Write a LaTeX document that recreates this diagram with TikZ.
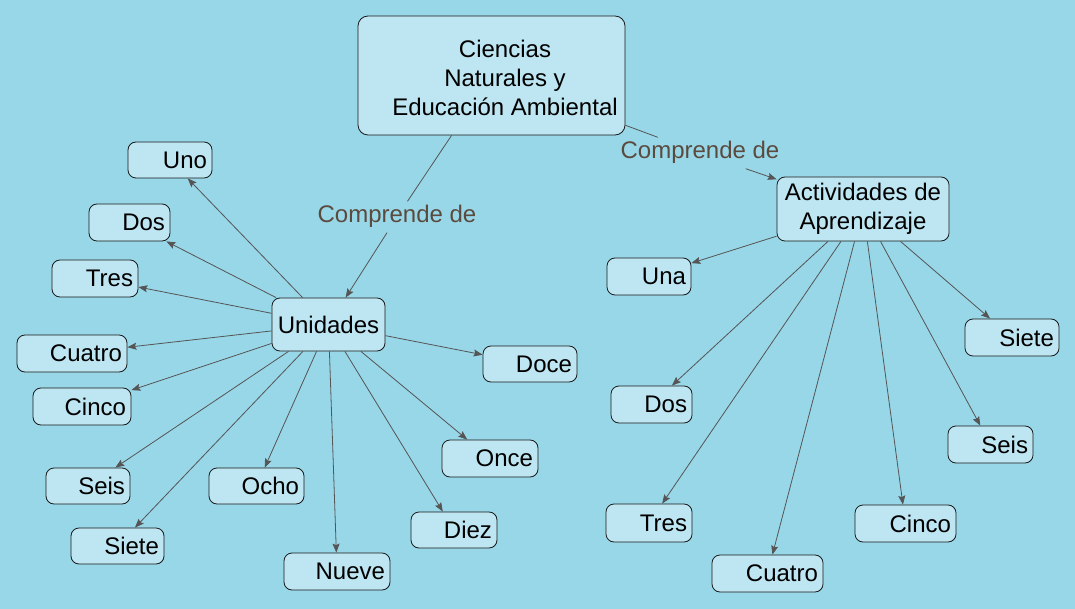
\documentclass[tikz,border=0pt]{standalone}
\usepackage{fontspec}
\setmainfont{Liberation Sans}
\usetikzlibrary{arrows.meta}
\definecolor{bgc}{HTML}{98D7E8}
\definecolor{boxc}{HTML}{BDE5F2}
\definecolor{linec}{HTML}{555555}
\definecolor{labc}{HTML}{5B4A3E}
\tikzset{
  cbox/.style={draw=black!90, line width=0.8pt, fill=boxc, rounded corners=8pt,
    font=\fontsize{24}{29}\selectfont, inner xsep=5pt, inner ysep=0pt, align=right},
  lab/.style={font=\fontsize{24}{29}\selectfont, text=labc, inner xsep=3pt, inner ysep=5pt,
    text height=16pt, text depth=5pt},
  ptxt/.style={font=\fontsize{24}{29}\selectfont, align=center, inner sep=0pt},
  conn/.style={draw=linec, line width=0.8pt},
  arr/.style={conn, -{Stealth[length=9pt,width=7pt,inset=1.5pt]}}
}
\newcommand{\cb}[5]{\node[cbox, minimum width=#2pt, minimum height=#3pt, text width=#2pt-10pt] (#1) at (#4) {#5};}
\begin{document}
\begin{tikzpicture}[x=1pt,y=-1pt]
\fill[bgc] (0,0) rectangle (1075,609);
\useasboundingbox (0,0) rectangle (1075,609);

% main
\node[cbox, minimum width=267pt, minimum height=119pt, rounded corners=10pt] (main) at (491.5,75.5) {};
\node[ptxt] (maintxt) at (505,77.5) {Ciencias\\Naturales y\\Educación Ambiental};

% labels
\node[lab] (l1) at (397,217) {Comprende de};
\node[lab] (l2) at (700,153) {Comprende de};

% Unidades
\node[cbox, align=center, minimum width=113pt, minimum height=53pt] (uni) at (328.5,324.5) {Unidades};
\cb{u1}{84}{36}{170,160}{Uno}
\cb{u2}{81}{37}{129.5,222.5}{Dos}
\cb{u3}{86}{37}{95,278.5}{Tres}
\cb{u4}{110}{37}{72,353.5}{Cuatro}
\cb{u5}{98}{37}{82,406.5}{Cinco}
\cb{u6}{84}{36}{88,486}{Seis}
\cb{u7}{93}{36}{117.5,546}{Siete}
\cb{u8}{95}{36}{256.5,486}{Ocho}
\cb{u9}{106}{37}{337,571.5}{Nueve}
\cb{u10}{86}{36}{454,530}{Diez}
\cb{u11}{96}{37}{490,458.5}{Once}
\cb{u12}{94}{36}{530,364}{Doce}

% Actividades
\node[cbox, align=center, minimum width=172pt, minimum height=64pt, inner xsep=3pt] (act) at (863,209) {Actividades de\\Aprendizaje};
\cb{a1}{84}{37}{649,276.5}{Una}
\cb{a2}{81}{37}{651.5,404.5}{Dos}
\cb{a3}{86}{38}{649,523}{Tres}
\cb{a4}{111}{37}{767.5,573.5}{Cuatro}
\cb{a5}{101}{37}{905.5,523.5}{Cinco}
\cb{a6}{85}{37}{990.5,444.5}{Seis}
\cb{a7}{94}{37}{1012,337.5}{Siete}

% connectors
\draw[conn] (main) -- (l1);
\draw[arr] (l1) -- (uni);
\draw[conn] (main) -- (l2);
\draw[arr] (l2) -- (act);
\foreach \n in {u1,u2,u3,u4,u5,u6,u7,u8,u9,u10,u11,u12}
  \draw[arr] (uni) -- (\n);
\foreach \n in {a1,a2,a3,a4,a5,a6,a7}
  \draw[arr] (act) -- (\n);
\end{tikzpicture}
\end{document}
